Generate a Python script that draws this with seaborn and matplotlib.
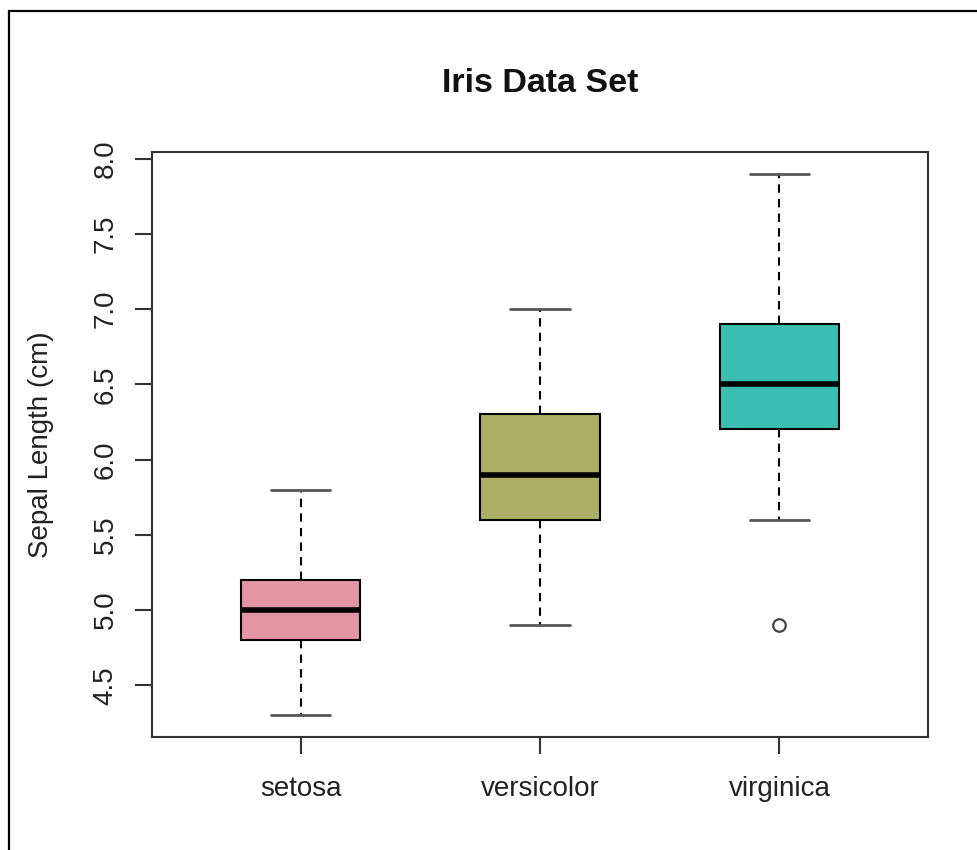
import pandas as pd
import numpy as np
import matplotlib
matplotlib.use('Agg')
import matplotlib.pyplot as plt
from matplotlib.patches import Rectangle
import seaborn as sns

# five-number summaries
species = ['setosa', 'versicolor', 'virginica']
whisker_low = [4.3, 4.9, 5.6]
q1 = [4.8, 5.6, 6.2]
median = [5.0, 5.9, 6.5]
q3 = [5.2, 6.3, 6.9]
whisker_high = [5.8, 7.0, 7.9]
outlier_species = ['virginica']
outlier_values = [4.9]
box_colors = ['#E495A5', '#ABB065', '#39BEB1']
yticks = [4.5, 5.0, 5.5, 6.0, 6.5, 7.0, 7.5, 8.0]

rows = []
for i, sp in enumerate(species):
    for v in [whisker_low[i], q1[i], median[i], q3[i], whisker_high[i]]:
        rows.append({'Species': sp, 'Sepal.Length': v})
df = pd.DataFrame(rows)

sns.set_style('ticks')
plt.rcParams['font.family'] = ['Liberation Sans', 'DejaVu Sans']

fig = plt.figure(figsize=(9.77, 8.5), dpi=100)
ax = fig.add_axes([0.1556, 0.1329, 0.7942, 0.6883])

sns.boxplot(data=df, x='Species', y='Sepal.Length', hue='Species', order=species,
            palette=box_colors, saturation=1, whis=(0, 100), width=0.5, legend=False,
            ax=ax, linecolor='black', linewidth=1.5,
            whiskerprops=dict(linestyle=(0, (4, 3)), color='black', linewidth=1.5),
            capprops=dict(color='#555555', linewidth=2),
            medianprops=dict(color='black', linewidth=4),
            capwidths=0.25)

sns.stripplot(x=outlier_species, y=outlier_values, order=species, jitter=False,
              color='white', edgecolor='#444444', linewidth=1.6, size=9, ax=ax)

ax.set_xlim(-0.62, 2.62)
ax.set_ylim(4.156, 8.044)
ax.set_yticks(yticks)
ax.set_yticklabels([f'{t:.1f}' for t in yticks], rotation=90, va='center')
ax.set_xlabel('')
ax.set_ylabel('Sepal Length (cm)', fontsize=20, color='#222222', labelpad=28)
ax.tick_params(axis='both', labelsize=20, length=12, width=1.5, color='#333333',
               labelcolor='#222222')
ax.tick_params(axis='x', pad=16)
ax.tick_params(axis='y', pad=12)
for s in ax.spines.values():
    s.set_visible(True)
    s.set_color('#333333')
    s.set_linewidth(1.5)

fig.text(0.5527, 1 - 83 / 850, 'Iris Data Set', ha='center', va='center',
         fontsize=24.5, fontweight='bold', color='#111111')

# outer frame of the original screenshot (left and top edges)
fig.add_artist(Rectangle((9 / 977, -0.5), 2, 0.987 + 0.5, transform=fig.transFigure,
                         fill=False, edgecolor='black', linewidth=1.6))

fig.savefig('out.png', dpi=100)
